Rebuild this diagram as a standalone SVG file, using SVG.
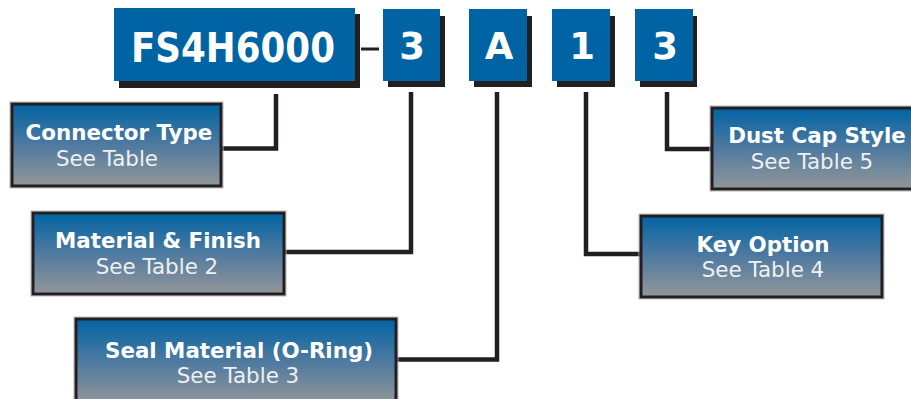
<svg xmlns="http://www.w3.org/2000/svg" width="911" height="399" viewBox="0 0 911 399">
<defs>
<linearGradient id="g" x1="0" y1="0" x2="0" y2="1">
<stop offset="0" stop-color="#0064a3"/>
<stop offset="0.5" stop-color="#4f7aa0"/>
<stop offset="1" stop-color="#939799"/>
</linearGradient>
</defs>
<style>
.code{fill:#0064a4}
.sh{fill:#231f20}
.ct{font-family:"DejaVu Sans",Verdana,sans-serif;font-weight:bold;fill:#fff;text-anchor:middle}
.box{fill:url(#g);stroke:#231f20;stroke-width:3}
.halo{fill:none;stroke:#b8b8b8;stroke-width:1}
.t{font-family:"DejaVu Sans",Verdana,sans-serif;font-weight:bold;font-size:21.4px;fill:#fff;text-anchor:middle}
.s{font-family:"DejaVu Sans",Verdana,sans-serif;font-size:21.4px;fill:#eef0f2;text-anchor:middle}
.ln{fill:none;stroke:#231f20;stroke-width:4.5;stroke-linejoin:miter}
</style>
<g id="code">
<g id="part-base">
<rect class="sh" x="119" y="14" width="241" height="74"/>
<rect class="code" x="114" y="8" width="241" height="73"/>
<text class="ct" x="233" y="62" font-size="41" textLength="204" lengthAdjust="spacingAndGlyphs">FS4H6000</text>
</g>
<rect id="dash" x="361" y="47.5" width="18" height="3" fill="#231f20"/>
<g id="part-material">
<rect class="sh" x="388" y="16" width="57" height="71"/>
<rect class="code" x="383" y="9" width="57" height="72"/>
<text class="ct" x="412" y="59" font-size="37">3</text>
</g>
<g id="part-seal">
<rect class="sh" x="474" y="16" width="58" height="71"/>
<rect class="code" x="469" y="9" width="58" height="72"/>
<text class="ct" x="499" y="59" font-size="37">A</text>
</g>
<g id="part-key">
<rect class="sh" x="557" y="16" width="58" height="71"/>
<rect class="code" x="552" y="9" width="58" height="72"/>
<text class="ct" x="582" y="59" font-size="37">1</text>
</g>
<g id="part-dust">
<rect class="sh" x="640" y="16" width="57" height="71"/>
<rect class="code" x="635" y="9" width="58" height="72"/>
<text class="ct" x="665" y="59" font-size="37">3</text>
</g>
</g>
<g id="connectors">
<path class="ln" d="M276,94 V148.5 H221"/>
<path class="ln" d="M411,92 V252 H284"/>
<path class="ln" d="M497,92 V359.5 H396"/>
<path class="ln" d="M586,92 V254 H641"/>
<path class="ln" d="M667,92 V149 H712"/>
</g>
<g id="connector-type">
<rect class="halo" x="10" y="102" width="213" height="86"/>
<rect class="box" x="12" y="104" width="209" height="82"/>
<text class="t" x="119" y="140">Connector Type</text>
<text class="s" x="107" y="166">See Table</text>
</g>
<g id="material-finish">
<rect class="halo" x="31" y="211" width="255" height="85"/>
<rect class="box" x="33" y="213" width="251" height="81"/>
<text class="t" x="158" y="248">Material &amp; Finish</text>
<text class="s" x="157" y="274">See Table 2</text>
</g>
<g id="seal-material">
<rect class="halo" x="74" y="317" width="324" height="90"/>
<rect class="box" x="76" y="319" width="320" height="86"/>
<text class="t" x="239" y="358">Seal Material (O-Ring)</text>
<text class="s" x="238" y="383">See Table 3</text>
</g>
<g id="key-option">
<rect class="halo" x="639" y="214" width="245" height="85"/>
<rect class="box" x="641" y="216" width="241" height="81"/>
<text class="t" x="763" y="252">Key Option</text>
<text class="s" x="763" y="277">See Table 4</text>
</g>
<g id="dust-cap">
<rect class="halo" x="710" y="106" width="210" height="85"/>
<rect class="box" x="712" y="108" width="206" height="81"/>
<text class="t" x="817" y="143">Dust Cap Style</text>
<text class="s" x="812" y="169">See Table 5</text>
</g>
</svg>
